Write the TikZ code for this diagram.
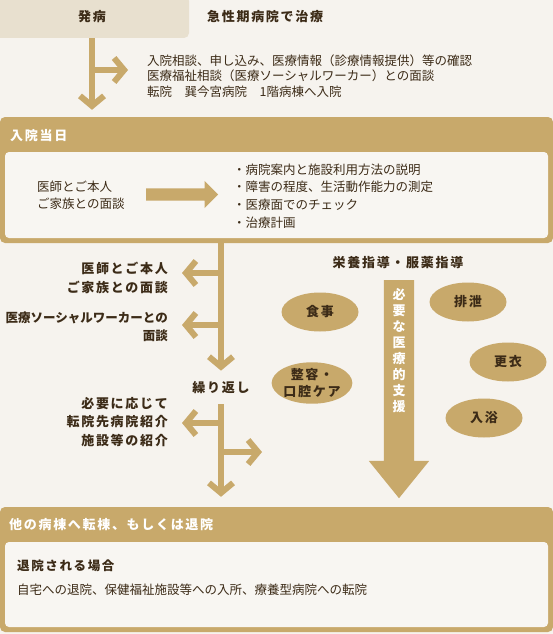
\documentclass[tikz,border=0pt]{standalone}
\usepackage{fontspec}
\setmainfont{Noto Sans CJK JP}
\newfontfamily\spacedjp{Noto Sans CJK JP}[LetterSpace=13]
\usepackage{xcolor}
\usepackage{tikz}
\usetikzlibrary{arrows.meta, positioning, calc, shapes.geometric, shapes.arrows}
\definecolor{cream}{HTML}{F6F3EE}
\definecolor{gold}{HTML}{C8A96B}
\definecolor{beige}{HTML}{E8E0CF}
\definecolor{ink}{HTML}{3C2B17}
\definecolor{paper}{HTML}{F8F6F2}
\tikzset{
  onsetbox/.style={
    rectangle,
    rounded corners=5pt,
    fill=beige,
    minimum width=194pt,
    minimum height=42pt,
    inner sep=0pt,
    text=ink,
    font=\spacedjp\bfseries\fontsize{13}{15}\selectfont
  },
  stagebox/.style={
    rectangle,
    rounded corners=5pt,
    fill=gold,
    minimum width=553pt,
    inner sep=0pt
  },
  panel/.style={
    rectangle,
    rounded corners=4pt,
    fill=paper,
    minimum width=543pt,
    inner sep=0pt
  },
  headtext/.style={
    anchor=west,
    inner sep=0pt,
    text=white,
    font=\spacedjp\bfseries\fontsize{13}{15}\selectfont
  },
  note/.style={
    anchor=west,
    inner sep=0pt,
    align=left,
    text=ink,
    font=\fontsize{12.5}{15.5}\selectfont
  },
  sidelabel/.style={
    anchor=east,
    inner sep=0pt,
    align=right,
    text=ink,
    font=\spacedjp\bfseries\fontsize{13}{18.5}\selectfont
  },
  flow/.style={
    draw=gold,
    line width=6pt,
    -{Straight Barb[length=10pt, width=24pt]}
  },
  flatarrow/.style={
    single arrow,
    fill=gold,
    minimum height=72pt,
    inner xsep=0pt,
    inner ysep=6pt,
    single arrow head extend=7.5pt,
    anchor=tail
  },
  bigarrow/.style={
    single arrow,
    fill=gold,
    minimum height=218pt,
    inner xsep=0pt,
    inner ysep=15pt,
    single arrow head extend=15pt,
    single arrow tip angle=78,
    rotate=-90,
    anchor=tail
  },
  careitem/.style={
    ellipse,
    fill=gold,
    minimum width=77pt,
    minimum height=39pt,
    inner sep=0pt,
    align=center,
    text=ink,
    font=\spacedjp\bfseries\fontsize{13}{17}\selectfont
  }
}

\begin{document}
\begin{tikzpicture}[x=1pt, y=-1pt]

  % Canvas
  \fill[cream] (0,0) rectangle (553,634);
  \useasboundingbox (0,0) rectangle (553,634);

  % Onset
  \node (onset) [onsetbox] at (92,17) {発病};
  \node (acute) [headtext, text=ink] at (207,17) {急性期病院で治療};
  \node (intake) [note] at (147,76) {入院相談、申し込み、医療情報（診療情報提供）等の確認\\医療福祉相談（医療ソーシャルワーカー）との面談\\転院\quad 巽今宮病院\quad 1階病棟へ入院};

  % Admission day
  \node (day) [stagebox, minimum height=126pt] at (276.5,180) {};
  \node (dayhead) [headtext] at (10,136) {入院当日};
  \node (daypanel) [panel, minimum height=86pt] at (276.5,195) {};
  \node (meet) [note, font=\fontsize{12.5}{17}\selectfont] at (37,195.5) {医師とご本人\\ご家族との面談};
  \node (dayarrow) [flatarrow] at (146,194.5) {};
  \node (checks) [note, font=\fontsize{12.5}{17.7}\selectfont] at (233,196) {・病院案内と施設利用方法の説明\\・障害の程度、生活動作能力の測定\\・医療面でのチェック\\・治療計画};

  % Ward stay
  \node (askdoctor) [sidelabel] at (168,278) {医師とご本人\\ご家族との面談};
  \node (asksocial) [sidelabel, font=\bfseries\fontsize{12.5}{18}\selectfont] at (168,327) {医療ソーシャルワーカーとの\\面談};
  \node (repeat) [inner sep=0pt, text=ink, font=\spacedjp\bfseries\fontsize{13}{15}\selectfont] at (221,388) {繰り返し};
  \node (referral) [sidelabel] at (168,422) {必要に応じて\\転院先病院紹介\\施設等の紹介};

  % Care support
  \node (guidance) [inner sep=0pt, text=ink, font=\spacedjp\bfseries\fontsize{13}{15}\selectfont] at (398,263) {栄養指導・服薬指導};
  \node (support) [bigarrow] at (399,280) {};
  \node (supporttext) [inner sep=0pt, align=center, text=white, font=\bfseries\fontsize{13}{15.9}\selectfont] at (399,350.5) {必\\要\\な\\医\\療\\的\\支\\援};
  \node (meal) [careitem] at (320,312) {食事};
  \node (groom) [careitem] at (312,383) {整容・\\口腔ケア};
  \node (toilet) [careitem] at (468,302) {排泄};
  \node (dress) [careitem] at (508,362) {更衣};
  \node (bath) [careitem] at (484,418) {入浴};

  % Leaving
  \node (leave) [stagebox, minimum height=125pt] at (276.5,569.5) {};
  \node (leavehead) [headtext] at (9,525) {他の病棟へ転棟、もしくは退院};
  \node (leavepanel) [panel, minimum height=85pt] at (276.5,584.5) {};
  \node (dischargetitle) [note, font=\spacedjp\bfseries\fontsize{12.5}{15}\selectfont] at (17,566) {退院される場合};
  \node (destinations) [note] at (17,590) {自宅への退院、保健福祉施設等への入所、療養型病院への転院};

  % Flow lines
  \coordinate (forkA) at (92,70);
  \coordinate (forkB1) at (221,273);
  \coordinate (forkB2) at (221,325);
  \coordinate (forkC1) at (221,423);
  \coordinate (forkC2) at (221,452);
  \coordinate (tocare) at (262,452);

  \draw[flow, shorten >=7pt] (onset.south) -- (onset.south |- day.north);
  \draw[flow, shorten >=19pt] (forkA) -- (forkA -| intake.west);

  \draw[flow, shorten >=11pt] (repeat.north |- day.south) -- (repeat.north);
  \draw[flow, shorten >=14pt] (forkB1) -- (forkB1 -| askdoctor.east);
  \draw[flow, shorten >=14pt] (forkB2) -- (forkB2 -| asksocial.east);

  \draw[flow, shorten <=10pt, shorten >=10pt] (repeat.south) -- (repeat.south |- leave.north);
  \draw[flow, shorten >=14pt] (forkC1) -- (forkC1 -| referral.east);
  \draw[flow] (forkC2) -- (tocare);

\end{tikzpicture}
\end{document}
